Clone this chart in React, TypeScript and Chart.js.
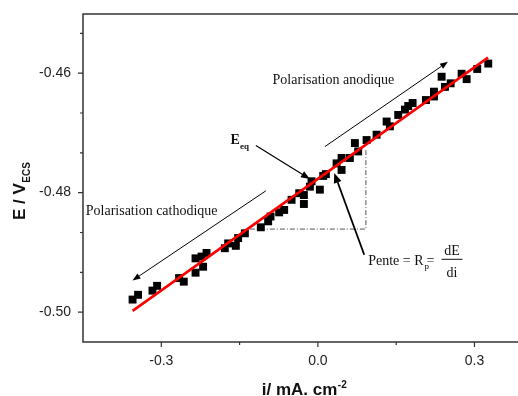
import React, { useEffect, useRef } from 'react';
import { Chart, registerables } from 'chart.js';

Chart.register(...registerables);

// Measured current density (mA/cm2) and potential (V/ECS)
const currentDensity = [-0.355, -0.3445, -0.3169, -0.308, -0.2659, -0.2569, -0.2344, -0.2344, -0.2199, -0.2229, -0.2133, -0.1783, -0.1719, -0.1572, -0.1528, -0.1399, -0.1093, -0.0953, -0.0907, -0.0742, -0.0646, -0.0504, -0.0358, -0.0268, -0.0268, -0.0121, -0.0153, 0.0038, 0.0102, 0.0153, 0.0358, 0.0454, 0.0454, 0.0613, 0.0709, 0.0772, 0.0933, 0.1125, 0.1317, 0.138, 0.1539, 0.1668, 0.1731, 0.1815, 0.207, 0.2224, 0.2224, 0.2371, 0.2434, 0.2544, 0.2754, 0.285, 0.3053, 0.3264];
const potential = [-0.4979, -0.4971, -0.4964, -0.4956, -0.4943, -0.4949, -0.4934, -0.491, -0.4924, -0.4907, -0.4901, -0.4893, -0.4885, -0.4889, -0.4876, -0.4868, -0.4858, -0.4848, -0.484, -0.4833, -0.4829, -0.4812, -0.4801, -0.4804, -0.4819, -0.4781, -0.479, -0.4795, -0.4772, -0.4769, -0.4751, -0.4762, -0.4742, -0.4742, -0.4717, -0.4731, -0.4712, -0.4703, -0.4681, -0.4689, -0.467, -0.4661, -0.4655, -0.465, -0.4645, -0.4639, -0.4631, -0.4606, -0.4623, -0.4617, -0.4601, -0.461, -0.4593, -0.4584];

// Linear fit (polarisation resistance)
const fitCurrent = [-0.355, 0.326];
const fitPotential = [-0.4998, -0.4574];

// Axes
const xRange = [-0.45, 0.3834];
const yRange = [-0.505, -0.4501];
const xMajorTicks = [-0.3, 0.0, 0.3];
const xMinorTicks = [-0.15, 0.15];
const yMajorTicks = [-0.46, -0.48, -0.5];
const yMinorTicks = [-0.45333, -0.46667, -0.47333, -0.48667, -0.49333];

// Slope triangle (dash-dot)
const slopeCurrent = [-0.1303, 0.092];
const slopePotential = [-0.4861, -0.4727];

// Arrows: [i1, E1, i2, E2]
const arrowAnodic = [0.0134, -0.4723, 0.2492, -0.4581];
const arrowCathodic = [-0.0997, -0.4797, -0.3552, -0.4947];
const arrowEeq = [-0.1188, -0.4721, -0.0153, -0.4777];
const arrowSlope = [0.0888, -0.4904, 0.0313, -0.4767];

// Text anchors (left, baseline)
const labelAnodic = [-0.0868, -0.4618];
const labelCathodic = [-0.4447, -0.48372];
const labelEeq = [-0.1673, -0.47183];
const labelSlope = [0.0964, -0.49208];

const SANS = '"Liberation Sans", Arial, sans-serif';
const SERIF = '"Liberation Serif", "Times New Roman", serif';

function drawArrow(ctx: CanvasRenderingContext2D, x1: number, y1: number, x2: number, y2: number, lw: number, hl: number, hw: number) {
  const a = Math.atan2(y2 - y1, x2 - x1);
  const bx = x2 - hl * Math.cos(a);
  const by = y2 - hl * Math.sin(a);
  ctx.save();
  ctx.strokeStyle = '#000';
  ctx.fillStyle = '#000';
  ctx.lineWidth = lw;
  ctx.beginPath();
  ctx.moveTo(x1, y1);
  ctx.lineTo(bx, by);
  ctx.stroke();
  ctx.beginPath();
  ctx.moveTo(x2, y2);
  ctx.lineTo(bx + hw * Math.sin(a), by - hw * Math.cos(a));
  ctx.lineTo(bx - hw * Math.sin(a), by + hw * Math.cos(a));
  ctx.closePath();
  ctx.fill();
  ctx.restore();
}

const decorPlugin = {
  id: 'decor',
  beforeDatasetsDraw(chart: any) {
    const { ctx, scales } = chart;
    const x = scales.x, y = scales.y;
    ctx.save();
    ctx.strokeStyle = '#555';
    ctx.lineWidth = 1;
    ctx.setLineDash([5, 2, 1, 2]);
    ctx.beginPath();
    ctx.moveTo(x.getPixelForValue(slopeCurrent[0]), y.getPixelForValue(slopePotential[0]));
    ctx.lineTo(x.getPixelForValue(slopeCurrent[1]), y.getPixelForValue(slopePotential[0]));
    ctx.lineTo(x.getPixelForValue(slopeCurrent[1]), y.getPixelForValue(slopePotential[1]));
    ctx.stroke();
    ctx.restore();
  },
  afterDraw(chart: any) {
    const { ctx, scales, chartArea } = chart;
    const x = scales.x, y = scales.y;
    const px = (v: number) => x.getPixelForValue(v);
    const py = (v: number) => y.getPixelForValue(v);
    const { left, right, top, bottom } = chartArea;

    // Frame (left, bottom, top)
    ctx.save();
    ctx.strokeStyle = '#333';
    ctx.lineWidth = 1.5;
    ctx.beginPath();
    ctx.moveTo(right + 2, top);
    ctx.lineTo(left, top);
    ctx.lineTo(left, bottom);
    ctx.lineTo(right + 2, bottom);
    ctx.stroke();

    // Tick marks
    ctx.lineWidth = 1.2;
    ctx.beginPath();
    xMajorTicks.forEach((v) => { ctx.moveTo(px(v), bottom); ctx.lineTo(px(v), bottom + 5); });
    xMinorTicks.forEach((v) => { ctx.moveTo(px(v), bottom); ctx.lineTo(px(v), bottom + 3); });
    yMajorTicks.forEach((v) => { ctx.moveTo(left, py(v)); ctx.lineTo(left - 5, py(v)); });
    yMinorTicks.forEach((v) => { ctx.moveTo(left, py(v)); ctx.lineTo(left - 3, py(v)); });
    ctx.stroke();
    ctx.restore();

    // Axis titles
    ctx.save();
    ctx.fillStyle = '#111';
    ctx.textBaseline = 'alphabetic';
    ctx.textAlign = 'left';
    ctx.font = `bold 17px ${SANS}`;
    const xt = 'i/ mA. cm';
    const w1 = ctx.measureText(xt).width;
    ctx.font = `bold 10px ${SANS}`;
    const w2 = ctx.measureText('-2').width;
    const xStart = 304 - (w1 + w2) / 2;
    ctx.font = `bold 17px ${SANS}`;
    ctx.fillText(xt, xStart, 395);
    ctx.font = `bold 10px ${SANS}`;
    ctx.fillText('-2', xStart + w1 + 0.5, 388);

    ctx.translate(25, 220);
    ctx.rotate(-Math.PI / 2);
    ctx.font = `bold 17px ${SANS}`;
    ctx.fillText('E / V', 0, 0);
    const wv = ctx.measureText('E / V').width;
    ctx.font = `bold 10px ${SANS}`;
    ctx.fillText('ECS', wv + 0.5, 5);
    ctx.restore();

    // Arrows
    drawArrow(ctx, px(arrowAnodic[0]), py(arrowAnodic[1]), px(arrowAnodic[2]), py(arrowAnodic[3]), 1, 8, 3);
    drawArrow(ctx, px(arrowCathodic[0]), py(arrowCathodic[1]), px(arrowCathodic[2]), py(arrowCathodic[3]), 1, 8, 3);
    drawArrow(ctx, px(arrowEeq[0]), py(arrowEeq[1]), px(arrowEeq[2]), py(arrowEeq[3]), 1.2, 9, 3.5);
    drawArrow(ctx, px(arrowSlope[0]), py(arrowSlope[1]), px(arrowSlope[2]), py(arrowSlope[3]), 1.8, 10, 4);

    // Texts
    ctx.save();
    ctx.fillStyle = '#111';
    ctx.textBaseline = 'alphabetic';
    ctx.textAlign = 'left';
    ctx.font = `14px ${SERIF}`;
    ctx.fillText('Polarisation anodique', px(labelAnodic[0]), py(labelAnodic[1]));
    ctx.fillText('Polarisation cathodique', px(labelCathodic[0]), py(labelCathodic[1]));

    const ex = px(labelEeq[0]), ey = py(labelEeq[1]);
    ctx.font = `bold 14px ${SERIF}`;
    ctx.fillText('E', ex, ey);
    const we = ctx.measureText('E').width;
    ctx.font = `bold 9px ${SERIF}`;
    ctx.fillText('eq', ex + we, ey + 5);

    const sx = px(labelSlope[0]), sy = py(labelSlope[1]);
    ctx.font = `14px ${SERIF}`;
    ctx.fillText('Pente = R', sx, sy);
    const wp = ctx.measureText('Pente = R').width;
    ctx.font = `9px ${SERIF}`;
    ctx.fillText('p', sx + wp + 1, sy + 4);
    ctx.font = `14px ${SERIF}`;
    ctx.fillText('=', sx + wp + 3, sy);
    const fx = sx + wp + 18;
    const fw = 21;
    ctx.textAlign = 'center';
    ctx.fillText('dE', fx + fw / 2, sy - 10);
    ctx.fillText('di', fx + fw / 2, sy + 12);
    ctx.strokeStyle = '#111';
    ctx.lineWidth = 1;
    ctx.beginPath();
    ctx.moveTo(fx, sy - 5.5);
    ctx.lineTo(fx + fw, sy - 5.5);
    ctx.stroke();
    ctx.restore();
  },
};

const zeroPadding = (scale: any) => {
  scale.paddingTop = 0;
  scale.paddingBottom = 0;
  scale.paddingLeft = 0;
  scale.paddingRight = 0;
};

export default function App() {
  const canvasRef = useRef<HTMLCanvasElement | null>(null);

  useEffect(() => {
    if (!canvasRef.current) return;
    const points = currentDensity.map((v, i) => ({ x: v, y: potential[i] }));
    const fit = fitCurrent.map((v, i) => ({ x: v, y: fitPotential[i] }));
    const chart = new Chart(canvasRef.current, {
      type: 'scatter',
      data: {
        datasets: [
          {
            type: 'line',
            label: 'Fit',
            data: fit,
            borderColor: '#ff0000',
            borderWidth: 2.6,
            pointRadius: 0,
            order: 0,
          } as any,
          {
            label: 'E vs i',
            data: points,
            pointStyle: 'rect',
            pointRadius: 5.6,
            pointBorderWidth: 0,
            backgroundColor: '#000',
            borderColor: '#000',
            order: 1,
          },
        ],
      },
      options: {
        animation: false,
        responsive: false,
        devicePixelRatio: 1,
        layout: { autoPadding: false, padding: { top: 14, right: 0, left: 0, bottom: 0 } },
        plugins: { legend: { display: false }, tooltip: { enabled: false } },
        scales: {
          x: {
            type: 'linear',
            min: xRange[0],
            max: xRange[1],
            grid: { display: false, drawTicks: false },
            border: { display: false },
            afterBuildTicks: (scale: any) => { scale.ticks = xMajorTicks.map((v) => ({ value: v })); },
            afterFit: (scale: any) => { scale.height = 54; zeroPadding(scale); },
            ticks: {
              padding: 11,
              color: '#222',
              font: { family: SANS, size: 14 },
              callback: (v: any) => Number(v).toFixed(1),
              maxRotation: 0,
              autoSkip: false,
            },
          },
          y: {
            type: 'linear',
            min: yRange[0],
            max: yRange[1],
            grid: { display: false, drawTicks: false },
            border: { display: false },
            afterBuildTicks: (scale: any) => { scale.ticks = yMajorTicks.map((v) => ({ value: v })); },
            afterFit: (scale: any) => { scale.width = 83; zeroPadding(scale); },
            ticks: {
              padding: 12,
              color: '#222',
              font: { family: SANS, size: 14 },
              callback: (v: any) => Number(v).toFixed(2),
              autoSkip: false,
            },
          },
        },
      },
      plugins: [decorPlugin],
    });
    return () => chart.destroy();
  }, []);

  return (
    <div style={{ position: 'fixed', left: 0, top: 0, width: 518, height: 396, background: '#fff' }}>
      <canvas ref={canvasRef} width={518} height={396} style={{ display: 'block' }} />
    </div>
  );
}
